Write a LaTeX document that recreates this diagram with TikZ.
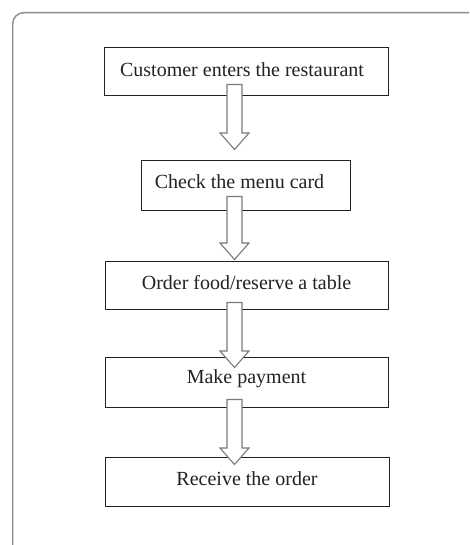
\documentclass[tikz,border=0pt]{standalone}
\usepackage{fontspec}
\setmainfont{Liberation Serif}
\usetikzlibrary{calc}

\definecolor{boxline}{HTML}{222222}
\definecolor{arrowline}{HTML}{7A7A7A}
\definecolor{frameline}{HTML}{8A8A8A}

\tikzset{
  stepbox/.style={draw=boxline, line width=1pt, fill=white, inner sep=0pt},
  steptext/.style={text=boxline, font=\fontsize{20}{24}\selectfont, inner sep=0pt},
  blockarr/.style={draw=arrowline, line width=1.1pt, fill=white, line join=miter},
}

% hollow block arrow from the middle of the shaft's top edge (#1) to the tip (#2)
\newcommand{\blockarrow}[2]{%
  \draw[blockarr] ($(#1)+(-7.5,0)$) -- ($(#2)+(-7.5,-16.5)$) -- ($(#2)+(-14.5,-16.5)$)
    -- (#2) -- ($(#2)+(14.5,-16.5)$) -- ($(#2)+(7.5,-16.5)$) -- ($(#1)+(7.5,0)$) -- cycle;}

\begin{document}
\begin{tikzpicture}[x=1pt, y=-1pt]
  \clip (0,0) rectangle (469,545);
  \fill[white] (0,0) rectangle (469,545);

  % outer rounded frame
  \draw[frameline, line width=1.4pt, rounded corners=11pt] (12.7,12.7) rectangle (490,570);

  % process steps
  \node[stepbox, minimum width=284pt, minimum height=48pt] (b1) at (246,72) {};
  \node[stepbox, minimum width=209pt, minimum height=49pt] (b2) at (245.5,185.5) {};
  \node[stepbox, minimum width=283pt, minimum height=48pt] (b3) at (246.5,285) {};
  \node[stepbox, minimum width=283pt, minimum height=50pt] (b4) at (246.5,382) {};
  \node[stepbox, minimum width=284pt, minimum height=49pt] (b5) at (247,481.5) {};

  \node[steptext] (t1) at ($(b1.center)+(-4,-2.5)$) {Customer enters the restaurant};
  \node[steptext] (t2) at ($(b2.center)+(-6,-3.5)$) {Check the menu card};
  \node[steptext] (t3) at ($(b3.center)+(0,-2.5)$) {Order food/reserve a table};
  \node[steptext] (t4) at ($(b4.center)+(0,-3.5)$) {Make payment};
  \node[steptext] (t5) at ($(b5.center)+(0,-3)$) {Receive the order};

  % connectors
  \coordinate (axis) at (234.5,0);
  \coordinate (a1s) at ($(axis |- b1.south)+(0,-12)$);
  \coordinate (a1e) at ($(axis |- b2.north)+(0,-11)$);
  \coordinate (a2s) at ($(axis |- b2.south)+(0,-14)$);
  \coordinate (a2e) at ($(axis |- b3.north)+(0,-1)$);
  \coordinate (a3s) at ($(axis |- b3.south)+(0,-7)$);
  \coordinate (a3e) at ($(axis |- b4.north)+(0,11)$);
  \coordinate (a4s) at ($(axis |- b4.south)+(0,-8)$);
  \coordinate (a4e) at ($(axis |- b5.north)+(0,8)$);

  \blockarrow{a1s}{a1e}
  \blockarrow{a2s}{a2e}
  \blockarrow{a3s}{a3e}
  \blockarrow{a4s}{a4e}
\end{tikzpicture}
\end{document}
